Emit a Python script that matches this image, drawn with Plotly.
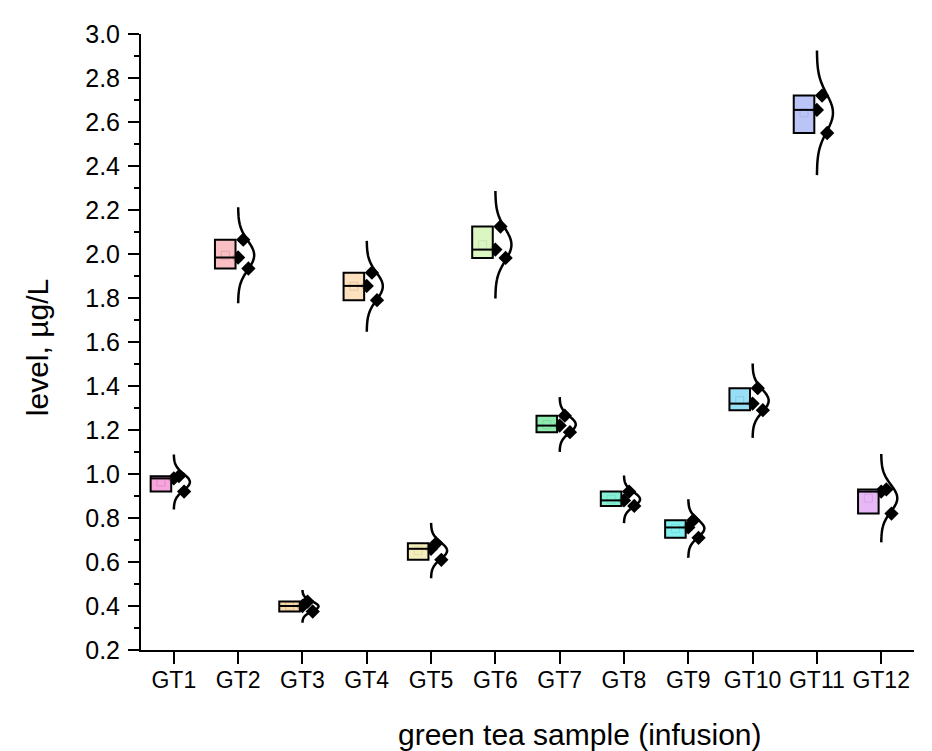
import numpy as np
import plotly.graph_objects as go

categories = ["GT1", "GT2", "GT3", "GT4", "GT5", "GT6",
              "GT7", "GT8", "GT9", "GT10", "GT11", "GT12"]
# three replicate measurements per sample (µg/L), listed top, middle, bottom
gt1 = [0.99, 0.98, 0.92]
gt2 = [2.065, 1.984, 1.934]
gt3 = [0.42, 0.40, 0.375]
gt4 = [1.915, 1.855, 1.79]
gt5 = [0.685, 0.66, 0.61]
gt6 = [2.125, 2.02, 1.982]
gt7 = [1.265, 1.22, 1.19]
gt8 = [0.92, 0.88, 0.855]
gt9 = [0.79, 0.757, 0.71]
gt10 = [1.39, 1.32, 1.29]
gt11 = [2.72, 2.655, 2.55]
gt12 = [0.93, 0.92, 0.82]
series = [gt1, gt2, gt3, gt4, gt5, gt6, gt7, gt8, gt9, gt10, gt11, gt12]
y_ticks = [0.2, 0.4, 0.6, 0.8, 1.0, 1.2, 1.4, 1.6, 1.8, 2.0, 2.2, 2.4, 2.6, 2.8, 3.0]

colors = ["rgba(245,150,215,0.85)", "rgba(248,180,185,0.85)", "rgba(245,210,160,0.85)",
          "rgba(252,220,180,0.85)", "rgba(242,236,180,0.9)", "rgba(215,245,185,0.9)",
          "rgba(130,232,165,0.9)", "rgba(120,238,210,0.9)", "rgba(120,238,238,0.9)",
          "rgba(140,218,245,0.9)", "rgba(180,190,245,0.9)", "rgba(228,175,245,0.9)"]

JITTER = [0.08, 0.0, 0.16]
BOX_L, BOX_R = -0.36, -0.04
CURVE_W = 0.25
CURVE_SPAN = 3.3

fig = go.Figure()
shapes = []
for i, vals in enumerate(series):
    x0 = i + 1
    v = np.array(vals)
    lo, hi = v.min(), v.max()
    med = float(np.median(v))
    mean = float(v.mean())
    sd = float(v.std(ddof=1))
    shapes.append(dict(type="rect", xref="x", yref="y", x0=x0 + BOX_L, x1=x0 + BOX_R,
                       y0=lo, y1=hi, fillcolor=colors[i],
                       line=dict(color="black", width=2), layer="above"))
    shapes.append(dict(type="line", xref="x", yref="y", x0=x0 + BOX_L, x1=x0 + BOX_R,
                       y0=med, y1=med, line=dict(color="black", width=2), layer="above"))
    fig.add_trace(go.Scatter(x=[x0 + (BOX_L + BOX_R) / 2], y=[mean], mode="markers",
                             marker=dict(symbol="square-open", size=8,
                                         color="rgba(80,60,50,0.9)", line=dict(width=1)),
                             showlegend=False, hoverinfo="skip"))
    yy = np.linspace(mean - CURVE_SPAN * sd, mean + CURVE_SPAN * sd, 120)
    xx = x0 + CURVE_W * np.exp(-0.5 * ((yy - mean) / sd) ** 2)
    fig.add_trace(go.Scatter(x=xx, y=yy, mode="lines",
                             line=dict(color="black", width=2.5, shape="spline"),
                             showlegend=False, hoverinfo="skip"))
    fig.add_trace(go.Scatter(x=[x0 + j for j in JITTER], y=vals, mode="markers",
                             marker=dict(symbol="diamond", size=11, color="black"),
                             showlegend=False, hoverinfo="skip"))

font_family = "Arial, Liberation Sans, sans-serif"
fig.update_layout(
    width=924, height=743,
    margin=dict(l=133, r=18, t=20, b=101),
    plot_bgcolor="white", paper_bgcolor="white",
    shapes=shapes,
    font=dict(family=font_family, color="black"),
    xaxis=dict(range=[0.49, 12.51], tickvals=list(range(1, 13)), ticktext=categories,
               showgrid=False, zeroline=False, showline=True, linecolor="black",
               linewidth=2, ticks="outside", ticklen=12, tickwidth=2, tickcolor="black",
               tickfont=dict(size=23), ticklabelstandoff=-4),
    yaxis=dict(range=[0.2, 3.0], tickvals=y_ticks,
               tickformat=".1f", showgrid=False, zeroline=False, showline=True,
               linecolor="black", linewidth=2, ticks="outside", ticklen=11, tickwidth=2,
               tickcolor="black", tickfont=dict(size=25), ticklabelstandoff=3,
               minor=dict(dtick=0.1, ticks="outside", ticklen=5, tickwidth=2,
                          tickcolor="black")),
    annotations=[
        dict(text="green tea sample (infusion)", xref="paper", yref="paper",
             x=0.568, y=-0.137, xanchor="center", yanchor="middle",
             showarrow=False, font=dict(size=30)),
        dict(text="level, µg/L", xref="paper", yref="paper", textangle=-90,
             x=-0.1345, y=0.49, xanchor="center", yanchor="middle",
             showarrow=False, font=dict(size=30)),
    ],
)

fig.write_html("out.html")
